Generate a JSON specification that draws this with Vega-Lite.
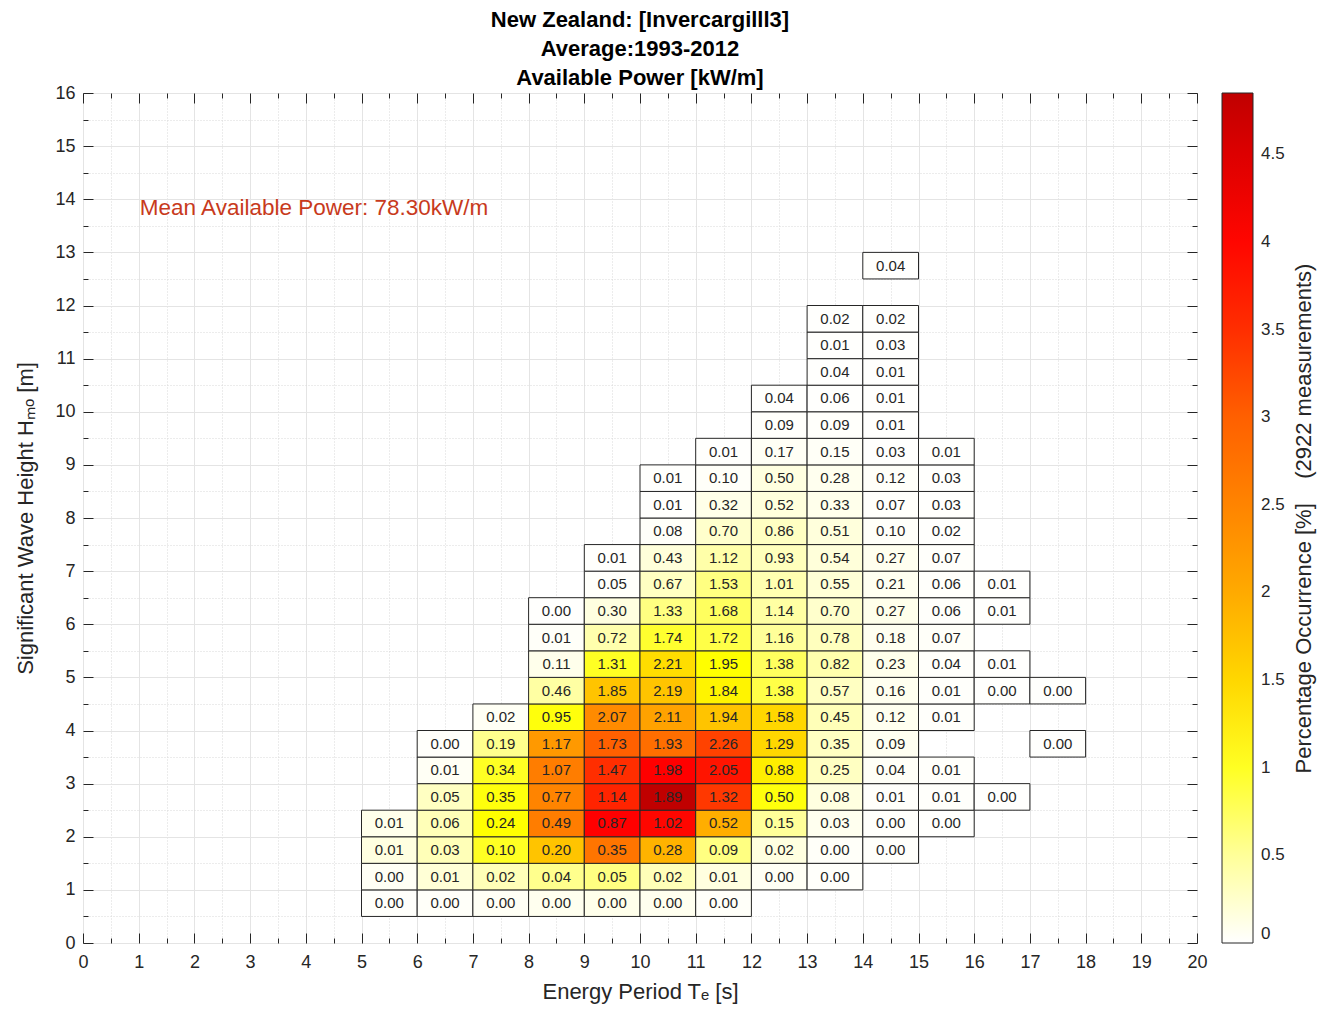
{
  "$schema": "https://vega.github.io/schema/vega-lite/v6.json",
  "autosize": {"type": "none"},
  "width": 1114,
  "height": 850,
  "padding": {"left": 83, "top": 93, "right": 127, "bottom": 69},
  "background": "white",
  "view": {"stroke": "#262626", "strokeWidth": 1},
  "config": {
    "font": "Liberation Sans",
    "axis": {"labelFont": "Liberation Sans", "titleFont": "Liberation Sans", "labelColor": "#262626", "titleColor": "#262626", "tickColor": "#262626", "titleFontWeight": "normal", "labelFlush": false},
    "legend": {"labelFont": "Liberation Sans", "titleFont": "Liberation Sans"}
  },
  "title": {
    "text": ["New Zealand: [Invercargilll3]", "Average:1993-2012", "Available Power [kW/m]"],
    "font": "Liberation Sans",
    "fontSize": 22,
    "fontWeight": "bold",
    "color": "#000000",
    "lineHeight": 29,
    "anchor": "middle",
    "offset": -6
  },
  "resolve": {"axis": {"x": "independent", "y": "independent"}},
  "layer": [
    {
      "data": {"name": "cells"},
      "transform": [
        {"bin": {"step": 1, "extent": [0, 20]}, "field": "T", "as": ["T0", "T1"]},
        {"bin": {"step": 0.5, "extent": [0, 16]}, "field": "H", "as": ["H0", "H1"]}
      ],
      "mark": {"type": "rect", "stroke": "#262626", "strokeWidth": 1},
      "encoding": {
        "x": {"field": "T0", "type": "quantitative", "scale": {"domain": [0, 20], "nice": false, "zero": false},
          "axis": {"orient": "bottom", "values": [0,1,2,3,4,5,6,7,8,9,10,11,12,13,14,15,16,17,18,19,20], "grid": true, "gridColor": "#e4e4e4", "tickSize": -10, "labelPadding": 20, "labelFontSize": 18, "labelFlush": false, "domain": false, "title": "Energy Period Tₑ [s]", "titleFontSize": 22, "titlePadding": 10}},
        "x2": {"field": "T1"},
        "y": {"field": "H0", "type": "quantitative", "scale": {"domain": [0, 16], "nice": false, "zero": false},
          "axis": {"orient": "left", "values": [0,1,2,3,4,5,6,7,8,9,10,11,12,13,14,15,16], "grid": true, "gridColor": "#e4e4e4", "tickSize": -10, "labelPadding": 18, "labelFontSize": 18, "labelFlush": false, "domain": false, "title": "Significant Wave Height Hₘₒ [m]", "titleFontSize": 22, "titlePadding": 17}},
        "y2": {"field": "H1"},
        "color": {"field": "P", "type": "quantitative",
          "scale": {"type": "linear", "interpolate": "rgb", "domain": [0, 0.5, 1.15, 1.6, 2.2, 3.0, 3.7, 4.1, 4.85], "range": ["#ffffff", "#ffff99", "#ffff00", "#ffcc00", "#ff9900", "#ff6000", "#ff1a00", "#ff0000", "#c00000"], "clamp": true},
          "legend": {"orient": "none", "legendX": 1139, "legendY": 0, "direction": "vertical", "gradientLength": 850, "gradientThickness": 31,
            "values": [0, 0.5, 1, 1.5, 2, 2.5, 3, 3.5, 4, 4.5], "format": "~g", "labelFontSize": 17, "labelColor": "#262626", "labelOffset": 8,
            "gradientStrokeColor": "#262626", "gradientStrokeWidth": 1, "title": null}}
      }
    },
    {
      "data": {"name": "cells"},
      "mark": {"type": "text", "font": "Liberation Sans", "fontSize": 15, "color": "#262626", "align": "center", "baseline": "middle"},
      "encoding": {
        "x": {"field": "T", "type": "quantitative",
          "axis": {"orient": "top", "values": [0,1,2,3,4,5,6,7,8,9,10,11,12,13,14,15,16,17,18,19,20], "grid": false, "tickSize": -10, "labels": false, "domain": false, "title": null}},
        "y": {"field": "H", "type": "quantitative",
          "axis": {"orient": "right", "values": [0,1,2,3,4,5,6,7,8,9,10,11,12,13,14,15,16], "grid": false, "tickSize": -10, "labels": false, "domain": false,
            "title": "Percentage Occurrence [%]\u00a0\u00a0\u00a0\u00a0(2922 measurements)", "titleAngle": 270, "titleBaseline": "top", "titleFontSize": 22, "titlePadding": 96, "titleLimit": 1000}},
        "text": {"field": "V", "type": "quantitative", "format": ".2f"}
      }
    },
    {
      "data": {"name": "note"},
      "mark": {"type": "text", "font": "Liberation Sans", "fontSize": 22.5, "color": "#c83a1c", "align": "left", "baseline": "middle"},
      "encoding": {
        "x": {"field": "x", "type": "quantitative",
          "axis": {"orient": "bottom", "values": [0.5,1.5,2.5,3.5,4.5,5.5,6.5,7.5,8.5,9.5,10.5,11.5,12.5,13.5,14.5,15.5,16.5,17.5,18.5,19.5], "grid": true, "gridColor": "#d8d8d8", "gridDash": [1, 2], "tickSize": -5, "labels": false, "domain": false, "title": null}},
        "y": {"field": "y", "type": "quantitative",
          "axis": {"orient": "left", "values": [0.5,1.5,2.5,3.5,4.5,5.5,6.5,7.5,8.5,9.5,10.5,11.5,12.5,13.5,14.5,15.5], "grid": true, "gridColor": "#d8d8d8", "gridDash": [1, 2], "tickSize": -5, "labels": false, "domain": false, "title": null}},
        "text": {"field": "label"}
      }
    },
    {
      "data": {"name": "note"},
      "mark": {"type": "point", "opacity": 0},
      "encoding": {
        "x": {"field": "x", "type": "quantitative",
          "axis": {"orient": "top", "values": [0.5,1.5,2.5,3.5,4.5,5.5,6.5,7.5,8.5,9.5,10.5,11.5,12.5,13.5,14.5,15.5,16.5,17.5,18.5,19.5], "grid": false, "tickSize": -5, "labels": false, "domain": false, "title": null}},
        "y": {"field": "y", "type": "quantitative",
          "axis": {"orient": "right", "values": [0.5,1.5,2.5,3.5,4.5,5.5,6.5,7.5,8.5,9.5,10.5,11.5,12.5,13.5,14.5,15.5], "grid": false, "tickSize": -5, "labels": false, "domain": false, "title": null}}
      }
    }
  ],
  "datasets": {
    "note": [{"x": 1.02, "y": 13.84, "label": "Mean Available Power: 78.30kW/m"}],
    "cells": [
      {"T":5.5,"H":0.75,"V":0,"P":0.02},{"T":6.5,"H":0.75,"V":0,"P":0.03},{"T":7.5,"H":0.75,"V":0,"P":0.05},{"T":8.5,"H":0.75,"V":0,"P":0.08},{"T":9.5,"H":0.75,"V":0,"P":0.1},{"T":10.5,"H":0.75,"V":0,"P":0.08},{"T":11.5,"H":0.75,"V":0,"P":0.03},
      {"T":5.5,"H":1.25,"V":0,"P":0.05},{"T":6.5,"H":1.25,"V":0.01,"P":0.2},{"T":7.5,"H":1.25,"V":0.02,"P":0.35},{"T":8.5,"H":1.25,"V":0.04,"P":0.55},{"T":9.5,"H":1.25,"V":0.05,"P":0.6},{"T":10.5,"H":1.25,"V":0.02,"P":0.35},{"T":11.5,"H":1.25,"V":0.01,"P":0.15},{"T":12.5,"H":1.25,"V":0,"P":0.05},{"T":13.5,"H":1.25,"V":0,"P":0.02},
      {"T":5.5,"H":1.75,"V":0.01,"P":0.15},{"T":6.5,"H":1.75,"V":0.03,"P":0.35},{"T":7.5,"H":1.75,"V":0.10,"P":1.0},{"T":8.5,"H":1.75,"V":0.20,"P":1.7},{"T":9.5,"H":1.75,"V":0.35,"P":2.7},{"T":10.5,"H":1.75,"V":0.28,"P":1.9},{"T":11.5,"H":1.75,"V":0.09,"P":0.6},{"T":12.5,"H":1.75,"V":0.02,"P":0.15},{"T":13.5,"H":1.75,"V":0,"P":0.03},{"T":14.5,"H":1.75,"V":0,"P":0.02},
      {"T":5.5,"H":2.25,"V":0.01,"P":0.1},{"T":6.5,"H":2.25,"V":0.06,"P":0.35},{"T":7.5,"H":2.25,"V":0.24,"P":1.15},{"T":8.5,"H":2.25,"V":0.49,"P":2.6},{"T":9.5,"H":2.25,"V":0.87,"P":4.1},{"T":10.5,"H":2.25,"V":1.02,"P":4.0},{"T":11.5,"H":2.25,"V":0.52,"P":1.95},{"T":12.5,"H":2.25,"V":0.15,"P":0.5},{"T":13.5,"H":2.25,"V":0.03,"P":0.08},{"T":14.5,"H":2.25,"V":0,"P":0.02},{"T":15.5,"H":2.25,"V":0,"P":0.01},
      {"T":6.5,"H":2.75,"V":0.05,"P":0.3},{"T":7.5,"H":2.75,"V":0.35,"P":1.1},{"T":8.5,"H":2.75,"V":0.77,"P":2.5},{"T":9.5,"H":2.75,"V":1.14,"P":3.6},{"T":10.5,"H":2.75,"V":1.89,"P":4.85},{"T":11.5,"H":2.75,"V":1.32,"P":3.4},{"T":12.5,"H":2.75,"V":0.50,"P":1.1},{"T":13.5,"H":2.75,"V":0.08,"P":0.15},{"T":14.5,"H":2.75,"V":0.01,"P":0.02},{"T":15.5,"H":2.75,"V":0.01,"P":0.02},{"T":16.5,"H":2.75,"V":0,"P":0.01},
      {"T":6.5,"H":3.25,"V":0.01,"P":0.05},{"T":7.5,"H":3.25,"V":0.34,"P":1.0},{"T":8.5,"H":3.25,"V":1.07,"P":2.6},{"T":9.5,"H":3.25,"V":1.47,"P":3.5},{"T":10.5,"H":3.25,"V":1.98,"P":4.1},{"T":11.5,"H":3.25,"V":2.05,"P":3.8},{"T":12.5,"H":3.25,"V":0.88,"P":1.3},{"T":13.5,"H":3.25,"V":0.25,"P":0.3},{"T":14.5,"H":3.25,"V":0.04,"P":0.04},{"T":15.5,"H":3.25,"V":0.01,"P":0.02},
      {"T":6.5,"H":3.75,"V":0,"P":0.02},{"T":7.5,"H":3.75,"V":0.19,"P":0.55},{"T":8.5,"H":3.75,"V":1.17,"P":2.2},{"T":9.5,"H":3.75,"V":1.73,"P":3.0},{"T":10.5,"H":3.75,"V":1.93,"P":2.8},{"T":11.5,"H":3.75,"V":2.26,"P":3.3},{"T":12.5,"H":3.75,"V":1.29,"P":1.5},{"T":13.5,"H":3.75,"V":0.35,"P":0.3},{"T":14.5,"H":3.75,"V":0.09,"P":0.07},{"T":17.5,"H":3.75,"V":0,"P":0.01},
      {"T":7.5,"H":4.25,"V":0.02,"P":0.05},{"T":8.5,"H":4.25,"V":0.95,"P":1.1},{"T":9.5,"H":4.25,"V":2.07,"P":2.4},{"T":10.5,"H":4.25,"V":2.11,"P":2.1},{"T":11.5,"H":4.25,"V":1.94,"P":1.7},{"T":12.5,"H":4.25,"V":1.58,"P":1.5},{"T":13.5,"H":4.25,"V":0.45,"P":0.35},{"T":14.5,"H":4.25,"V":0.12,"P":0.08},{"T":15.5,"H":4.25,"V":0.01,"P":0.02},
      {"T":8.5,"H":4.75,"V":0.46,"P":0.45},{"T":9.5,"H":4.75,"V":1.85,"P":1.7},{"T":10.5,"H":4.75,"V":2.19,"P":1.7},{"T":11.5,"H":4.75,"V":1.84,"P":1.25},{"T":12.5,"H":4.75,"V":1.38,"P":0.85},{"T":13.5,"H":4.75,"V":0.57,"P":0.3},{"T":14.5,"H":4.75,"V":0.16,"P":0.08},{"T":15.5,"H":4.75,"V":0.01,"P":0.02},{"T":16.5,"H":4.75,"V":0,"P":0.01},{"T":17.5,"H":4.75,"V":0,"P":0.01},
      {"T":8.5,"H":5.25,"V":0.11,"P":0.1},{"T":9.5,"H":5.25,"V":1.31,"P":1.0},{"T":10.5,"H":5.25,"V":2.21,"P":1.45},{"T":11.5,"H":5.25,"V":1.95,"P":1.15},{"T":12.5,"H":5.25,"V":1.38,"P":0.75},{"T":13.5,"H":5.25,"V":0.82,"P":0.4},{"T":14.5,"H":5.25,"V":0.23,"P":0.1},{"T":15.5,"H":5.25,"V":0.04,"P":0.02},{"T":16.5,"H":5.25,"V":0.01,"P":0.01},
      {"T":8.5,"H":5.75,"V":0.01,"P":0.03},{"T":9.5,"H":5.75,"V":0.72,"P":0.4},{"T":10.5,"H":5.75,"V":1.74,"P":0.95},{"T":11.5,"H":5.75,"V":1.72,"P":0.85},{"T":12.5,"H":5.75,"V":1.16,"P":0.5},{"T":13.5,"H":5.75,"V":0.78,"P":0.32},{"T":14.5,"H":5.75,"V":0.18,"P":0.07},{"T":15.5,"H":5.75,"V":0.07,"P":0.03},
      {"T":8.5,"H":6.25,"V":0,"P":0.01},{"T":9.5,"H":6.25,"V":0.30,"P":0.15},{"T":10.5,"H":6.25,"V":1.33,"P":0.6},{"T":11.5,"H":6.25,"V":1.68,"P":0.75},{"T":12.5,"H":6.25,"V":1.14,"P":0.45},{"T":13.5,"H":6.25,"V":0.70,"P":0.25},{"T":14.5,"H":6.25,"V":0.27,"P":0.1},{"T":15.5,"H":6.25,"V":0.06,"P":0.02},{"T":16.5,"H":6.25,"V":0.01,"P":0.01},
      {"T":9.5,"H":6.75,"V":0.05,"P":0.02},{"T":10.5,"H":6.75,"V":0.67,"P":0.3},{"T":11.5,"H":6.75,"V":1.53,"P":0.6},{"T":12.5,"H":6.75,"V":1.01,"P":0.38},{"T":13.5,"H":6.75,"V":0.55,"P":0.2},{"T":14.5,"H":6.75,"V":0.21,"P":0.07},{"T":15.5,"H":6.75,"V":0.06,"P":0.02},{"T":16.5,"H":6.75,"V":0.01,"P":0.01},
      {"T":9.5,"H":7.25,"V":0.01,"P":0.01},{"T":10.5,"H":7.25,"V":0.43,"P":0.18},{"T":11.5,"H":7.25,"V":1.12,"P":0.42},{"T":12.5,"H":7.25,"V":0.93,"P":0.33},{"T":13.5,"H":7.25,"V":0.54,"P":0.18},{"T":14.5,"H":7.25,"V":0.27,"P":0.08},{"T":15.5,"H":7.25,"V":0.07,"P":0.02},
      {"T":10.5,"H":7.75,"V":0.08,"P":0.03},{"T":11.5,"H":7.75,"V":0.70,"P":0.25},{"T":12.5,"H":7.75,"V":0.86,"P":0.3},{"T":13.5,"H":7.75,"V":0.51,"P":0.17},{"T":14.5,"H":7.75,"V":0.10,"P":0.03},{"T":15.5,"H":7.75,"V":0.02,"P":0.01},
      {"T":10.5,"H":8.25,"V":0.01,"P":0.01},{"T":11.5,"H":8.25,"V":0.32,"P":0.11},{"T":12.5,"H":8.25,"V":0.52,"P":0.17},{"T":13.5,"H":8.25,"V":0.33,"P":0.1},{"T":14.5,"H":8.25,"V":0.07,"P":0.02},{"T":15.5,"H":8.25,"V":0.03,"P":0.01},
      {"T":10.5,"H":8.75,"V":0.01,"P":0.01},{"T":11.5,"H":8.75,"V":0.10,"P":0.03},{"T":12.5,"H":8.75,"V":0.50,"P":0.15},{"T":13.5,"H":8.75,"V":0.28,"P":0.08},{"T":14.5,"H":8.75,"V":0.12,"P":0.03},{"T":15.5,"H":8.75,"V":0.03,"P":0.01},
      {"T":11.5,"H":9.25,"V":0.01,"P":0.01},{"T":12.5,"H":9.25,"V":0.17,"P":0.05},{"T":13.5,"H":9.25,"V":0.15,"P":0.04},{"T":14.5,"H":9.25,"V":0.03,"P":0.01},{"T":15.5,"H":9.25,"V":0.01,"P":0.01},
      {"T":12.5,"H":9.75,"V":0.09,"P":0.02},{"T":13.5,"H":9.75,"V":0.09,"P":0.02},{"T":14.5,"H":9.75,"V":0.01,"P":0.01},
      {"T":12.5,"H":10.25,"V":0.04,"P":0.01},{"T":13.5,"H":10.25,"V":0.06,"P":0.01},{"T":14.5,"H":10.25,"V":0.01,"P":0.01},
      {"T":13.5,"H":10.75,"V":0.04,"P":0.01},{"T":14.5,"H":10.75,"V":0.01,"P":0.01},
      {"T":13.5,"H":11.25,"V":0.01,"P":0.01},{"T":14.5,"H":11.25,"V":0.03,"P":0.01},
      {"T":13.5,"H":11.75,"V":0.02,"P":0.01},{"T":14.5,"H":11.75,"V":0.02,"P":0.01},
      {"T":14.5,"H":12.75,"V":0.04,"P":0.01}
    ]
  }
}
